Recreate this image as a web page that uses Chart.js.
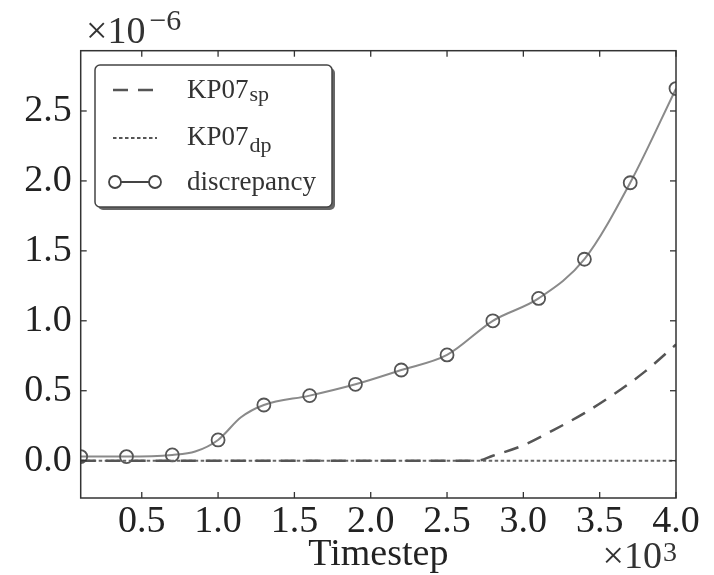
<!DOCTYPE html>
<html lang="en">
<head>
<meta charset="UTF-8">
<title>Discrepancy vs Timestep</title>
<script src="https://cdn.jsdelivr.net/npm/chart.js"></script>
<style>
  body { margin: 0; background: #fff; }
  .container { width: 714px; height: 575px; }
</style>
</head>
<body>
<div class="container"><canvas id="chart"></canvas></div>
<script>
// timestep in units of 10^3, errors in units of 10^-6
const discSteps  = [0.1, 0.4, 0.7, 0.85, 1.0, 1.15, 1.3, 1.6, 1.9, 2.2, 2.5, 2.8, 3.1, 3.4, 3.7, 4.0];
const discValues = [0.029, 0.029, 0.041, 0.065, 0.148, 0.31, 0.398, 0.465, 0.546, 0.648, 0.756, 1.0, 1.16, 1.44, 1.987, 2.66];
const markerSteps = [0.1, 0.4, 0.7, 1.0, 1.3, 1.6, 1.9, 2.2, 2.5, 2.8, 3.1, 3.4, 3.7, 4.0];

const spSteps  = [0.1, 2.7, 2.8, 3.0, 3.2, 3.4, 3.6, 3.8, 4.0];
const spValues = [0, 0, 0.035, 0.11, 0.22, 0.34, 0.48, 0.64, 0.83];

const dpSteps  = [0.1, 4.0];
const dpValues = [0, 0];

const xTicks = [0.5, 1.0, 1.5, 2.0, 2.5, 3.0, 3.5, 4.0];
const xTickLabels = ['0.5', '1.0', '1.5', '2.0', '2.5', '3.0', '3.5', '4.0'];
const yTicks = [0, 0.5, 1.0, 1.5, 2.0, 2.5];
const yTickLabels = ['0.0', '0.5', '1.0', '1.5', '2.0', '2.5'];

const seriesLabels = [['KP07', 'sp'], ['KP07', 'dp'], ['discrepancy', '']];

const serif = "'Liberation Serif', 'DejaVu Serif', serif";

function pts(xs, ys) {
    return xs.map((x, i) => ({ x: x, y: ys[i] }));
}

function line(ctx, x1, y1, x2, y2) {
    ctx.beginPath();
    ctx.moveTo(x1, y1);
    ctx.lineTo(x2, y2);
    ctx.stroke();
}

function roundRect(ctx, x, y, w, h, r) {
    ctx.beginPath();
    ctx.moveTo(x + r, y);
    ctx.arcTo(x + w, y, x + w, y + h, r);
    ctx.arcTo(x + w, y + h, x, y + h, r);
    ctx.arcTo(x, y + h, x, y, r);
    ctx.arcTo(x, y, x + w, y, r);
    ctx.closePath();
}

// frame, inward ticks and the exponent labels
const framePlugin = {
    id: 'frame',
    afterDatasetsDraw(chart) {
        const { ctx, chartArea: a, scales: { x, y } } = chart;
        ctx.save();
        ctx.strokeStyle = '#333';
        ctx.lineWidth = 1.5;
        ctx.strokeRect(a.left, a.top, a.right - a.left, a.bottom - a.top);
        ctx.lineWidth = 1.3;
        x.ticks.forEach(t => {
            const px = x.getPixelForValue(t.value);
            line(ctx, px, a.bottom, px, a.bottom - 6);
            line(ctx, px, a.top, px, a.top + 6);
        });
        y.ticks.forEach(t => {
            const py = y.getPixelForValue(t.value);
            line(ctx, a.left, py, a.left + 6, py);
            line(ctx, a.right, py, a.right - 6, py);
        });

        ctx.fillStyle = '#333';
        ctx.textBaseline = 'alphabetic';
        ctx.textAlign = 'left';
        ctx.font = '38px ' + serif;
        ctx.fillText('\u00d710', 86, 43);
        const w1 = ctx.measureText('\u00d710').width;
        ctx.font = '30px ' + serif;
        ctx.fillText('\u22126', 86 + w1 + 4, 30);

        ctx.font = '38px ' + serif;
        ctx.textAlign = 'right';
        ctx.fillText('\u00d710', 662, 568);
        ctx.font = '28px ' + serif;
        ctx.textAlign = 'left';
        ctx.fillText('3', 663, 561);
        ctx.restore();
    }
};

const legendPlugin = {
    id: 'boxLegend',
    afterDraw(chart) {
        const ctx = chart.ctx;
        ctx.save();
        roundRect(ctx, 98, 68, 237, 142, 5);
        ctx.fillStyle = '#666';
        ctx.fill();
        roundRect(ctx, 95, 65, 237, 142, 5);
        ctx.fillStyle = '#fff';
        ctx.fill();
        ctx.strokeStyle = '#444';
        ctx.lineWidth = 1.5;
        ctx.stroke();

        const lineY = [90, 138, 182];
        const baseY = [98, 145, 190];
        const subOff = [3, 7, 0];

        ctx.strokeStyle = '#555';
        ctx.lineWidth = 2.5;
        ctx.setLineDash([15, 10]);
        line(ctx, 113, lineY[0], 157, lineY[0]);
        ctx.strokeStyle = '#555';
        ctx.lineWidth = 2;
        ctx.setLineDash([3.5, 2.5]);
        line(ctx, 113, lineY[1], 157, lineY[1]);
        ctx.setLineDash([]);
        ctx.strokeStyle = '#444';
        ctx.lineWidth = 2;
        line(ctx, 121, lineY[2], 149, lineY[2]);
        ctx.lineWidth = 1.8;
        [115, 155].forEach(cx => {
            ctx.beginPath();
            ctx.arc(cx, lineY[2], 6, 0, Math.PI * 2);
            ctx.stroke();
        });

        ctx.fillStyle = '#333';
        ctx.textAlign = 'left';
        ctx.textBaseline = 'alphabetic';
        seriesLabels.forEach((lab, i) => {
            ctx.font = '27px ' + serif;
            ctx.fillText(lab[0], 187, baseY[i]);
            const w = ctx.measureText(lab[0]).width;
            if (lab[1]) {
                ctx.font = '22px ' + serif;
                ctx.fillText(lab[1], 187 + w + 1, baseY[i] + subOff[i]);
            }
        });
        ctx.restore();
    }
};

new Chart(document.getElementById('chart'), {
    type: 'line',
    data: {
        datasets: [
            {
                label: 'KP07sp',
                data: pts(spSteps, spValues),
                borderColor: '#555',
                borderWidth: 2.5,
                borderDash: [15, 10],
                pointRadius: 0,
                cubicInterpolationMode: 'monotone'
            },
            {
                label: 'KP07dp',
                data: pts(dpSteps, dpValues),
                borderColor: '#666',
                borderWidth: 2,
                borderDash: [3.5, 2.5],
                pointRadius: 0
            },
            {
                label: 'discrepancy',
                data: pts(discSteps, discValues),
                borderColor: '#8a8a8a',
                borderWidth: 2,
                cubicInterpolationMode: 'monotone',
                pointRadius: c => markerSteps.includes(c.raw.x) ? 6.5 : 0,
                pointBorderColor: '#555',
                pointBorderWidth: 1.8,
                pointBackgroundColor: 'rgba(0,0,0,0)'
            }
        ]
    },
    options: {
        responsive: true,
        maintainAspectRatio: false,
        animation: false,
        layout: { padding: { top: 50.7, right: 38, left: 0, bottom: 0 } },
        plugins: {
            legend: { display: false },
            tooltip: { enabled: false }
        },
        scales: {
            x: {
                type: 'linear',
                min: 0.1,
                max: 4.0,
                grid: { display: false, drawTicks: false },
                border: { display: false },
                afterBuildTicks: s => { s.ticks = xTicks.map(v => ({ value: v })); },
                afterFit: s => { s.height = 77; },
                ticks: {
                    autoSkip: false,
                    maxRotation: 0,
                    padding: 1,
                    color: '#222',
                    font: { family: serif, size: 38 },
                    callback: (v, i) => xTickLabels[i]
                },
                title: {
                    display: true,
                    text: 'Timestep',
                    color: '#222',
                    font: { family: serif, size: 38, lineHeight: 1 },
                    padding: { top: 0, bottom: 1 }
                }
            },
            y: {
                type: 'linear',
                min: -0.267,
                max: 2.931,
                grid: { display: false, drawTicks: false },
                border: { display: false },
                afterBuildTicks: s => { s.ticks = yTicks.map(v => ({ value: v })); },
                afterFit: s => { s.width = 80.7; },
                ticks: {
                    autoSkip: false,
                    padding: 9,
                    color: '#222',
                    font: { family: serif, size: 38 },
                    callback: (v, i) => yTickLabels[i]
                }
            }
        }
    },
    plugins: [framePlugin, legendPlugin]
});
</script>
</body>
</html>
